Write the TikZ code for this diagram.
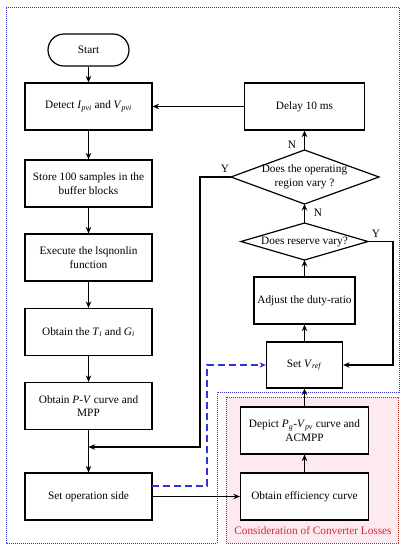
\documentclass[tikz,border=0pt]{standalone}
\usepackage{fontspec}
\setmainfont{Liberation Serif}
\usetikzlibrary{arrows.meta}
\definecolor{dotblue}{RGB}{50,50,220}
\definecolor{dotred}{RGB}{170,50,30}
\definecolor{lossred}{RGB}{215,40,40}
\definecolor{pinkfill}{RGB}{253,234,241}
\tikzset{
  box/.style={draw, line width=1.2pt, fill=white, align=center, font=\fontsize{11.3}{13.5}\selectfont, inner sep=2pt},
  arr/.style={line width=1.2pt, -{Stealth[length=6.5pt,width=5.5pt]}},
  plain/.style={line width=1.2pt},
  lbl/.style={font=\fontsize{11.3}{13.5}\selectfont, inner sep=0pt},
  dotline/.style={line width=0.9pt, dash pattern=on 0.9pt off 1.1pt},
}
\begin{document}
\begin{tikzpicture}[x=1pt,y=-1pt]
\useasboundingbox (0,0) rectangle (404,550);
% regions
\fill[pinkfill] (226,397) rectangle (398,543);
\draw[dotblue, dotline] (6,7) -- (399,7) -- (399,392) -- (217,392) -- (217,543) -- (6,543) -- cycle;
\draw[dotred, dotline] (226,397) rectangle (398,543);
\node[lbl, text=lossred] (loss) at (313,531) {Consideration of Converter Losses};

% left column
\node[box, minimum width=81pt, minimum height=32pt, rounded corners=16pt] (start) at (88.5,50) {Start};
\node[box, minimum width=127pt, minimum height=47pt] (detect) at (88.5,106.5) {Detect \textit{I}\textsubscript{\textit{pvi}} and \textit{V}\textsubscript{\textit{pvi}}};
\node[box, minimum width=127pt, minimum height=47pt] (store) at (88.5,183.5) {Store 100 samples in the\\buffer blocks};
\node[box, minimum width=127pt, minimum height=47pt] (execute) at (88.5,257.5) {Execute the lsqnonlin\\function};
\node[box, minimum width=127pt, minimum height=47pt] (obtainT) at (88.5,332) {Obtain the \textit{T}\textsubscript{\textit{i}} and \textit{G}\textsubscript{\textit{i}}};
\node[box, minimum width=127pt, minimum height=47pt] (obtainPV) at (88.5,406) {Obtain \textit{P}-\textit{V} curve and\\MPP};
\node[box, minimum width=127pt, minimum height=47pt] (setop) at (88.5,496.5) {Set operation side};

% right column
\node[box, minimum width=120pt, minimum height=47pt] (delay) at (304.5,106.5) {Delay 10 ms};
\coordinate (d1n) at (304.5,150);
\coordinate (d1s) at (304.5,204);
\coordinate (d1w) at (231,177);
\coordinate (d1e) at (379,177);
\draw[plain, fill=white] (d1n) -- (d1e) -- (d1s) -- (d1w) -- cycle;
\node[lbl, align=center] (d1) at (304.5,177) {Does the operating\\region vary ?};
\coordinate (d2n) at (304.5,223);
\coordinate (d2s) at (304.5,260);
\coordinate (d2w) at (241,241.5);
\coordinate (d2e) at (368,241.5);
\draw[plain, fill=white] (d2n) -- (d2e) -- (d2s) -- (d2w) -- cycle;
\node[lbl] (d2) at (304.5,241.5) {Does reserve vary?};
\node[box, minimum width=101pt, minimum height=47pt] (adjust) at (304.5,300.5) {Adjust the duty-ratio};
\node[box, minimum width=76pt, minimum height=46pt] (setv) at (304.5,365) {Set \textit{V}\textsubscript{\textit{ref}}};
\node[box, minimum width=128pt, minimum height=47pt] (depict) at (304.5,430.5) {Depict \textit{P}\textsubscript{\textit{g}}-\textit{V}\textsubscript{\textit{pv}} curve and\\ACMPP};
\node[box, minimum width=128pt, minimum height=47pt] (eff) at (304.5,496.5) {Obtain efficiency curve};

% connectors
\draw[arr] (start) -- (detect);
\draw[arr] (detect) -- (store);
\draw[arr] (store) -- (execute);
\draw[arr] (execute) -- (obtainT);
\draw[arr] (obtainT) -- (obtainPV);
\draw[arr] (obtainPV) -- (setop);
\coordinate (j) at (88.5,447);
\coordinate (yc) at (200,447);
\draw[arr] (d1w) -| (yc) -- (j);
\draw[arr] (delay) -- (detect);
\draw[arr] (d1n) -- (delay.south);
\draw[arr] (d2n) -- (d1s);
\draw[arr] (adjust.north) -- (d2s);
\draw[arr] (setv) -- (adjust);
\draw[arr] (depict) -- (setv);
\draw[arr] (eff) -- (depict);
\draw[arr] (setop) -- (eff);
\coordinate (rc) at (393,365);
\draw[arr] (d2e) -| (rc) -- (setv.east);
\coordinate (so) at (152,486);
\coordinate (bc) at (207,365);
\draw[dotblue, line width=1.2pt, dash pattern=on 7pt off 4pt, -{Stealth[length=6.5pt,width=5.5pt]}] (so) -| (bc) -- (setv.west);

% labels
\node[lbl] (n1) at (292,145) {N};
\node[lbl] (n2) at (318,213) {N};
\node[lbl] (y1) at (225,169) {Y};
\node[lbl] (y2) at (376,234) {Y};
\end{tikzpicture}
\end{document}
